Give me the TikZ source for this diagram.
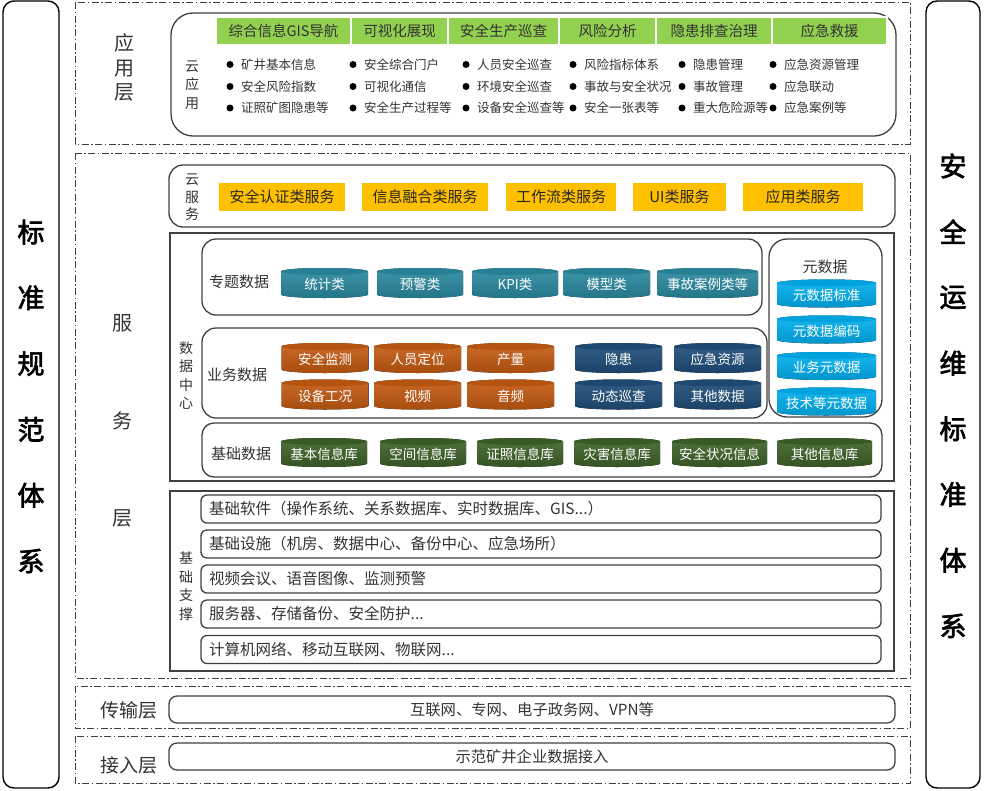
\documentclass[tikz,border=0pt]{standalone}
\usepackage{fontspec}
\setmainfont{Noto Sans CJK SC}
\newfontfamily\sidefont{Noto Sans CJK SC}[FakeBold=2.5]
\usepackage{tikz}
\definecolor{appgreen}{HTML}{92D050}
\definecolor{svcgold}{HTML}{FFC000}
\definecolor{topicteal}{HTML}{2A8AA1}
\definecolor{bizorange}{HTML}{C55A11}
\definecolor{bizblue}{HTML}{1F4E7A}
\definecolor{metablue}{HTML}{00B0F0}
\definecolor{basegreen}{HTML}{3D6329}
\definecolor{linegray}{HTML}{3F3F3F}
\definecolor{txtgray}{HTML}{333333}
\tikzset{
  layerframe/.style = {draw=linegray,line width=1pt,
                       dash pattern=on 7pt off 2.5pt on 1.5pt off 2.5pt},
  sidebox/.style    = {draw=black,line width=1.4pt,rounded corners=11pt},
  roundbox/.style   = {draw=linegray,line width=1.3pt,rounded corners=#1},
  plainbox/.style   = {draw=linegray,line width=1.1pt},
  sidelabel/.style  = {inner sep=0pt,font=\sidefont\fontsize{27}{30}\selectfont},
  layerlabel/.style = {inner sep=0pt,align=center,text=txtgray,
                       font=\fontsize{20}{24.5}\selectfont},
  smallv/.style     = {inner sep=0pt,align=center,text=txtgray,
                       font=\fontsize{14}{18.5}\selectfont},
  grouplabel/.style = {inner sep=0pt,text=txtgray,font=\fontsize{15}{17}\selectfont},
  headcell/.style   = {fill=appgreen,draw=white,line width=1.2pt,minimum height=28pt,
                       inner sep=0pt,text=txtgray,font=\fontsize{14.5}{16}\selectfont},
  svccell/.style    = {fill=svcgold,minimum height=28pt,inner sep=0pt,
                       text=black!85,font=\fontsize{15}{17}\selectfont},
  item/.style       = {anchor=west,inner sep=0pt,text=txtgray,
                       font=\fontsize{12.5}{14}\selectfont},
  bartext/.style    = {anchor=west,inner sep=0pt,text=txtgray,
                       font=\fontsize{15.5}{17}\selectfont},
  cantext/.style    = {inner sep=0pt,text=white,font=\fontsize{13.5}{15}\selectfont},
  pics/dbcan/.style n args={4}{code={
    \fill[top color=#3!90!white,bottom color=#3!85!black]
      (-#1/2,#2/2-3.5) -- (-#1/2,-#2/2+3.5)
      arc[start angle=180,end angle=360,x radius=#1/2,y radius=3.5]
      -- (#1/2,#2/2-3.5)
      arc[start angle=0,end angle=180,x radius=#1/2,y radius=3.5] -- cycle;
    \fill[#3!92!black] (0,#2/2-3.5) ellipse[x radius=#1/2,y radius=3.5];
    \node[cantext] (-t) at (0,-1.5) {#4};
  }}
}

\begin{document}
\begin{tikzpicture}[x=1pt,y=1pt]
  \useasboundingbox (0,0) rectangle (984,-790);

  % standards columns on both sides
  \draw[sidebox] (3,-1) rectangle (59,-788);
  \draw[sidebox] (926,-1) rectangle (980,-788);
  \foreach \c [count=\i] in {标,准,规,范,体,系}
    \node[sidelabel] (lstd\i) at (31,{-232-65.8*(\i-1)}) {\c};
  \foreach \c [count=\i] in {安,全,运,维,标,准,体,系}
    \node[sidelabel] (rstd\i) at (953,{-166-65.7*(\i-1)}) {\c};

  % layer frames
  \draw[layerframe] (75,-2) rectangle (910,-144);
  \draw[layerframe] (75,-153) rectangle (910,-678);
  \draw[layerframe] (75,-686) rectangle (910,-728);
  \draw[layerframe] (75,-736) rectangle (910,-783);

  % application layer
  \node[layerlabel] (applayer) at (124,-67.5) {应\\用\\层};
  \draw[roundbox=22pt] (171,-13) rectangle (896,-136);
  \node[smallv] (cloudapp) at (192,-85) {云\\应\\用};
  \foreach \n/\x/\w/\t in {gis/283.5/135/综合信息GIS导航, vis/399.5/97/可视化展现,
      patrol/503.5/111/安全生产巡查, risk/607.5/97/风险分析,
      hazard/714/116/隐患排查治理, rescue/829.5/115/应急救援}
    \node[headcell,minimum width=\w] (\n) at (\x,-31) {\t};
  \foreach \bx/\a/\b/\c [count=\i] in {
      230/矿井基本信息/安全风险指数/证照矿图隐患等,
      353/安全综合门户/可视化通信/安全生产过程等,
      466/人员安全巡查/环境安全巡查/设备安全巡查等,
      573/风险指标体系/事故与安全状况/安全一张表等,
      682/隐患管理/事故管理/重大危险源等,
      773/应急资源管理/应急联动/应急案例等}
    \foreach \r/\t [count=\j] in {64.5/\a,86.5/\b,108/\c} {
      \fill (\bx,-\r) circle (3.5pt);
      \node[item] (app\i\j) at (\bx+11,-\r) {\t};
    }

  % service layer
  \foreach \c/\y [count=\i] in {服/323,务/420.5,层/518}
    \node[layerlabel] (svclayer\i) at (122,-\y) {\c};
  \draw[roundbox=14pt] (169,-165) rectangle (895,-227);
  \node[smallv,font=\fontsize{14}{17.5}\selectfont] (cloudsvc) at (192,-197.5) {云\\服\\务};
  \foreach \n/\x/\w/\t in {auth/282/126/安全认证类服务, fusion/425/126/信息融合类服务,
      flow/561/110/工作流类服务, ui/679.5/93/UI类服务, appsvc/803/120/应用类服务}
    \node[svccell,minimum width=\w] (\n) at (\x,-197) {\t};

  % data centre
  \draw[plainbox] (170,-233) rectangle (894,-481);
  \node[smallv] (datacentre) at (186,-375.5) {数\\据\\中\\心};
  \draw[roundbox=14pt] (202,-239) rectangle (762,-315);
  \node[grouplabel] (topic) at (239,-282) {专题数据};
  \foreach \n/\x/\w/\t in {stat/324.5/87/统计类, warn/420/86/预警类, kpi/515/86/KPI类,
      model/606.5/87/模型类, cases/707.5/101/事故案例类等}
    \pic (\n) at (\x,-283) {dbcan={\w}{30}{topicteal}{\t}};

  \draw[roundbox=14pt] (202,-328) rectangle (767,-418);
  \node[grouplabel] (business) at (237,-375) {业务数据};
  \foreach \n/\x/\y/\t in {monitor/325/358/安全监测, locate/417.5/358/人员定位,
      output/510.5/358/产量, equip/325/394.5/设备工况, video/417.5/394.5/视频,
      audio/510.5/394.5/音频}
    \pic (\n) at (\x,-\y) {dbcan={87}{30}{bizorange}{\t}};
  \foreach \n/\x/\y/\t in {danger/618.5/358/隐患, resource/717.5/358/应急资源,
      dynpatrol/618.5/394.5/动态巡查, otherdata/717.5/394.5/其他数据}
    \pic (\n) at (\x,-\y) {dbcan={87}{30}{bizblue}{\t}};

  \draw[roundbox=18pt] (769,-239) rectangle (882,-417);
  \node[grouplabel] (meta) at (825,-267) {元数据};
  \foreach \n/\y/\t in {metastd/293.5/元数据标准, metacode/329.5/元数据编码,
      metabiz/366/业务元数据, metatech/401.5/技术等元数据}
    \pic (\n) at (826.5,-\y) {dbcan={99}{28}{metablue}{\t}};

  \draw[roundbox=12pt] (202,-423) rectangle (882,-477);
  \node[grouplabel] (basedata) at (241,-454) {基础数据};
  \foreach \n/\x/\w/\t in {basic/324/86/基本信息库, spatial/423/86/空间信息库,
      licence/520/86/证照信息库, disaster/617/86/灾害信息库,
      safety/719.5/95/安全状况信息, otherlib/824.5/95/其他信息库}
    \pic (\n) at (\x,-452.5) {dbcan={\w}{29}{basegreen}{\t}};

  % basic support
  \draw[plainbox] (170,-491) rectangle (894,-671);
  \node[smallv] (support) at (186,-586) {基\\础\\支\\撑};
  \foreach \n/\y/\t in {software/509/{基础软件（操作系统、关系数据库、实时数据库、GIS...）},
      facility/544/{基础设施（机房、数据中心、备份中心、应急场所）},
      media/579/{视频会议、语音图像、监测预警},
      server/614/{服务器、存储备份、安全防护...},
      network/649.5/{计算机网络、移动互联网、物联网...}} {
    \draw[roundbox=6pt] (201,-\y+14) rectangle (881,-\y-14);
    \node[bartext] (\n) at (209,-\y) {\t};
  }

  % transport and access layers
  \node[layerlabel,font=\fontsize{19}{21}\selectfont] (translayer) at (129,-710) {传输层};
  \draw[roundbox=8pt] (169,-696) rectangle (895,-723);
  \node[grouplabel,font=\fontsize{15.3}{17}\selectfont] (transnet) at (532,-709.5)
    {互联网、专网、电子政务网、VPN等};
  \node[layerlabel,font=\fontsize{19}{21}\selectfont] (accesslayer) at (129,-765) {接入层};
  \draw[roundbox=8pt] (169,-743) rectangle (895,-770);
  \node[grouplabel,font=\fontsize{15.3}{17}\selectfont] (access) at (532,-756.5)
    {示范矿井企业数据接入};
\end{tikzpicture}
\end{document}
